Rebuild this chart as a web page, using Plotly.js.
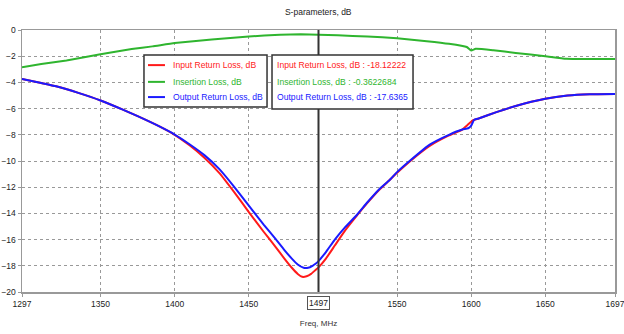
<!DOCTYPE html>
<html>
<head>
<meta charset="utf-8">
<script src="https://cdn.plot.ly/plotly-3.0.1.min.js"></script>
<style>html,body{margin:0;padding:0;background:#fff;}#chart{width:624px;height:334px;}</style>
</head>
<body>
<div id="chart"></div>
<script>
// ---- data ----
const freqRed = [1297,1310,1320,1335,1350,1365,1375,1390,1400,1410,1420,1430,1440,1450,1460,1468,1474,1479,1483,1486,1489,1492,1495,1497,1502,1508,1515,1523,1530,1538,1545,1550,1560,1572,1585,1594,1597,1599,1601,1605,1617,1630,1650,1665,1680,1697];
const inputRL = [-3.73,-4.05,-4.3,-4.8,-5.38,-6.08,-6.58,-7.38,-8.0,-8.8,-9.75,-10.9,-12.35,-13.9,-15.4,-16.55,-17.45,-18.15,-18.62,-18.84,-18.8,-18.62,-18.32,-18.12,-17.45,-16.45,-15.3,-14.15,-13.2,-12.2,-11.45,-10.9,-9.9,-8.85,-8.05,-7.6,-7.3,-7.1,-6.9,-6.75,-6.27,-5.8,-5.25,-5.0,-4.9,-4.88];
const freqBlue = [1297,1310,1320,1335,1350,1365,1375,1390,1400,1410,1420,1430,1440,1450,1460,1468,1474,1479,1483,1487,1490,1493,1495,1497,1502,1508,1515,1523,1530,1538,1545,1550,1560,1572,1585,1594,1598,1600,1602,1605,1617,1630,1650,1665,1680,1697];
const outputRL = [-3.73,-4.05,-4.3,-4.8,-5.38,-6.08,-6.58,-7.38,-7.98,-8.72,-9.55,-10.6,-11.95,-13.4,-14.85,-15.95,-16.8,-17.45,-17.9,-18.15,-18.15,-18.0,-17.85,-17.64,-16.95,-16.0,-15.05,-14.1,-13.15,-12.15,-11.45,-10.85,-9.85,-8.75,-8.0,-7.6,-7.5,-7.3,-6.85,-6.75,-6.27,-5.8,-5.25,-5.0,-4.9,-4.88];
const freqGreen = [1297,1310,1327,1349,1371,1385,1400,1425,1450,1471,1485,1497,1510,1530,1550,1570,1585,1597,1600,1603,1615,1630,1650,1664,1680,1697];
const insertionL = [-2.84,-2.6,-2.33,-1.87,-1.45,-1.25,-1.0,-0.72,-0.5,-0.36,-0.33,-0.36,-0.4,-0.5,-0.63,-0.85,-1.05,-1.3,-1.56,-1.44,-1.55,-1.75,-2.0,-2.2,-2.22,-2.22];
const seriesNames = ["Input Return Loss, dB","Insertion Loss, dB","Output Return Loss, dB"];
const cursorFreq = 1497;
const cursorValues = ["-18.12222","-0.3622684","-17.6365"];
const xTicks = [1297,1350,1400,1450,1550,1600,1650,1697];
const yTicks = [0,-2,-4,-6,-8,-10,-12,-14,-16,-18,-20];

// ---- styles ----
const colors = ["#ff1a1a","#2fb52f","#1a1aff"];
const F = "Liberation Sans, Arial, sans-serif";

const traces = [
  {x: freqRed, y: inputRL, name: seriesNames[0], mode:"lines", line:{color:colors[0], width:2, shape:"spline", smoothing:0.4}},
  {x: freqGreen, y: insertionL, name: seriesNames[1], mode:"lines", line:{color:colors[1], width:2, shape:"spline", smoothing:0.4}},
  {x: freqBlue, y: outputRL, name: seriesNames[2], mode:"lines", line:{color:colors[2], width:2, shape:"spline", smoothing:0.4}}
];

// row positions (paper coords) of legend / cursor readout entries
const rowY = [0.866, 0.802, 0.744];
const shapes = [
  {type:"line", xref:"x", yref:"paper", x0:cursorFreq, x1:cursorFreq, y0:0, y1:1, line:{color:"#333", width:2}, layer:"above"},
  {type:"rect", xref:"paper", yref:"paper", x0:0.2057, x1:0.4132, y0:0.9046, y1:0.7061, fillcolor:"#fff", line:{color:"#333", width:1.5}, layer:"above"},
  {type:"rect", xref:"paper", yref:"paper", x0:0.4216, x1:0.6594, y0:0.9046, y1:0.6985, fillcolor:"#fff", line:{color:"#333", width:1.5}, layer:"above"}
];
const annotations = [];
seriesNames.forEach((n,i)=>{
  shapes.push({type:"line", xref:"paper", yref:"paper", x0:0.2125, x1:0.2411, y0:rowY[i], y1:rowY[i], line:{color:colors[i], width:2}, layer:"above"});
  annotations.push({xref:"paper", yref:"paper", x:0.2513, y:rowY[i], xanchor:"left", yanchor:"middle",
    text:n, showarrow:false, font:{family:F, size:8.6, color:colors[i]}});
  annotations.push({xref:"paper", yref:"paper", x:0.4266, y:rowY[i], xanchor:"left", yanchor:"middle",
    text:n + " : " + cursorValues[i], showarrow:false, font:{family:F, size:8.6, color:colors[i]}});
});
annotations.push({xref:"x", yref:"paper", x:cursorFreq, y:0, yanchor:"top", yshift:-4,
  text:String(cursorFreq), showarrow:false, font:{family:F, size:8.5, color:"#222"},
  bordercolor:"#555", borderwidth:1, borderpad:1, bgcolor:"#fff"});

const layout = {
  width:624, height:334,
  margin:{l:22, r:9, t:30, b:42},
  paper_bgcolor:"#fff", plot_bgcolor:"#fff",
  font:{family:F, size:8.5, color:"#222"},
  showlegend:false,
  title:{text:"S-parameters, dB", font:{family:F, size:8.5, color:"#222"}, x:0.51, xanchor:"center", y:0.965, yanchor:"middle"},
  xaxis:{range:[1297,1697], tickvals:xTicks, ticktext:xTicks.map(String), showgrid:true, gridcolor:"#999", griddash:"dot", gridwidth:1,
    showline:true, linecolor:"#999", linewidth:1.5, mirror:true, zeroline:false, ticks:"outside", ticklen:3, tickcolor:"#999",
    ticklabeloverflow:"allow",
    title:{text:"Freq, MHz", font:{family:F, size:8, color:"#333"}, standoff:12}, fixedrange:true},
  yaxis:{range:[-20,0], tickvals:yTicks, showgrid:true, gridcolor:"#999", griddash:"dot", gridwidth:1,
    showline:true, linecolor:"#999", linewidth:1.5, mirror:true, zeroline:false, ticks:"outside", ticklen:3, tickcolor:"#999", fixedrange:true},
  shapes: shapes,
  annotations: annotations
};
Plotly.newPlot("chart", traces, layout, {displayModeBar:false, staticPlot:true});
</script>
</body>
</html>
